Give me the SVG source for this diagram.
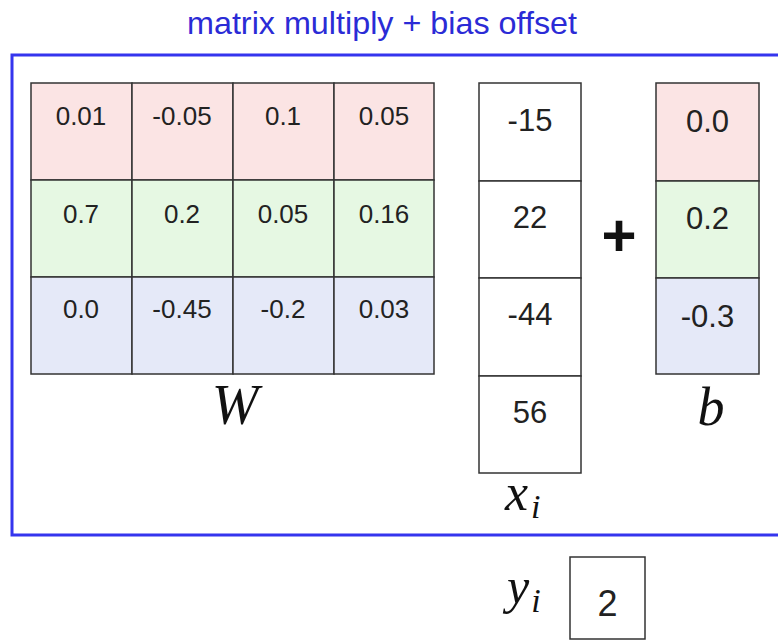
<svg xmlns="http://www.w3.org/2000/svg" width="778" height="641" viewBox="0 0 778 641">
<style>
.cell{stroke:#333;stroke-width:1.5}
.r{fill:#fbe4e4}
.g{fill:#e6f8e3}
.bl{fill:#e5e9f8}
.w{fill:#fff}
.num{font-family:"Liberation Sans",Arial,sans-serif;fill:#222;text-anchor:middle}
.wn{font-size:26px}
.vn{font-size:31px}
.math{font-family:"Liberation Serif","Times New Roman",serif;font-style:italic;fill:#111}
</style>
<rect width="778" height="641" fill="#fff"/>
<g id="title">
<text x="382" y="34" font-family="Liberation Sans, Arial, sans-serif" font-size="32" fill="#2b2bd6" text-anchor="middle" textLength="390" lengthAdjust="spacingAndGlyphs">matrix multiply + bias offset</text>
</g>
<g id="frame">
<path d="M 790 55 H 12 V 535 H 790" fill="none" stroke="#3535ee" stroke-width="3"/>
</g>
<g id="W">
<rect class="cell r" x="31" y="83" width="101" height="97"/>
<rect class="cell r" x="132" y="83" width="101" height="97"/>
<rect class="cell r" x="233" y="83" width="101" height="97"/>
<rect class="cell r" x="334" y="83" width="100" height="97"/>
<rect class="cell g" x="31" y="180" width="101" height="97"/>
<rect class="cell g" x="132" y="180" width="101" height="97"/>
<rect class="cell g" x="233" y="180" width="101" height="97"/>
<rect class="cell g" x="334" y="180" width="100" height="97"/>
<rect class="cell bl" x="31" y="277" width="101" height="97"/>
<rect class="cell bl" x="132" y="277" width="101" height="97"/>
<rect class="cell bl" x="233" y="277" width="101" height="97"/>
<rect class="cell bl" x="334" y="277" width="100" height="97"/>
<text class="num wn" x="81" y="125">0.01</text>
<text class="num wn" x="182" y="125">-0.05</text>
<text class="num wn" x="283" y="125">0.1</text>
<text class="num wn" x="384" y="125">0.05</text>
<text class="num wn" x="81" y="223">0.7</text>
<text class="num wn" x="182" y="223">0.2</text>
<text class="num wn" x="283" y="223">0.05</text>
<text class="num wn" x="384" y="223">0.16</text>
<text class="num wn" x="81" y="318">0.0</text>
<text class="num wn" x="182" y="318">-0.45</text>
<text class="num wn" x="283" y="318">-0.2</text>
<text class="num wn" x="384" y="318">0.03</text>
<text class="math" x="235" y="424" font-size="56" text-anchor="middle">W</text>
</g>
<g id="x">
<rect class="cell w" x="479" y="83" width="102" height="98"/>
<rect class="cell w" x="479" y="181" width="102" height="97"/>
<rect class="cell w" x="479" y="278" width="102" height="98"/>
<rect class="cell w" x="479" y="376" width="102" height="97"/>
<text class="num vn" x="530" y="131">-15</text>
<text class="num vn" x="530" y="228">22</text>
<text class="num vn" x="530" y="325">-44</text>
<text class="num vn" x="530" y="423">56</text>
<text class="math" x="505" y="510" font-size="52">x<tspan font-size="34" dx="3" dy="8">i</tspan></text>
</g>
<g id="plus">
<text x="619" y="256" font-family="Liberation Sans, Arial, sans-serif" font-weight="bold" font-size="60" text-anchor="middle" fill="#111">+</text>
</g>
<g id="b">
<rect class="cell r" x="656" y="83" width="103" height="98"/>
<rect class="cell g" x="656" y="181" width="103" height="97"/>
<rect class="cell bl" x="656" y="278" width="103" height="96"/>
<text class="num vn" x="707.5" y="132">0.0</text>
<text class="num vn" x="707.5" y="229">0.2</text>
<text class="num vn" x="707.5" y="327">-0.3</text>
<text class="math" x="711" y="425" font-size="54" text-anchor="middle">b</text>
</g>
<g id="y">
<text class="math" x="507" y="603" font-size="50">y<tspan font-size="34" dx="2" dy="9">i</tspan></text>
<rect class="cell w" x="570" y="557" width="75" height="82"/>
<text class="num" x="607.5" y="616" font-size="36">2</text>
</g>
<g id="connectors"/>
</svg>
